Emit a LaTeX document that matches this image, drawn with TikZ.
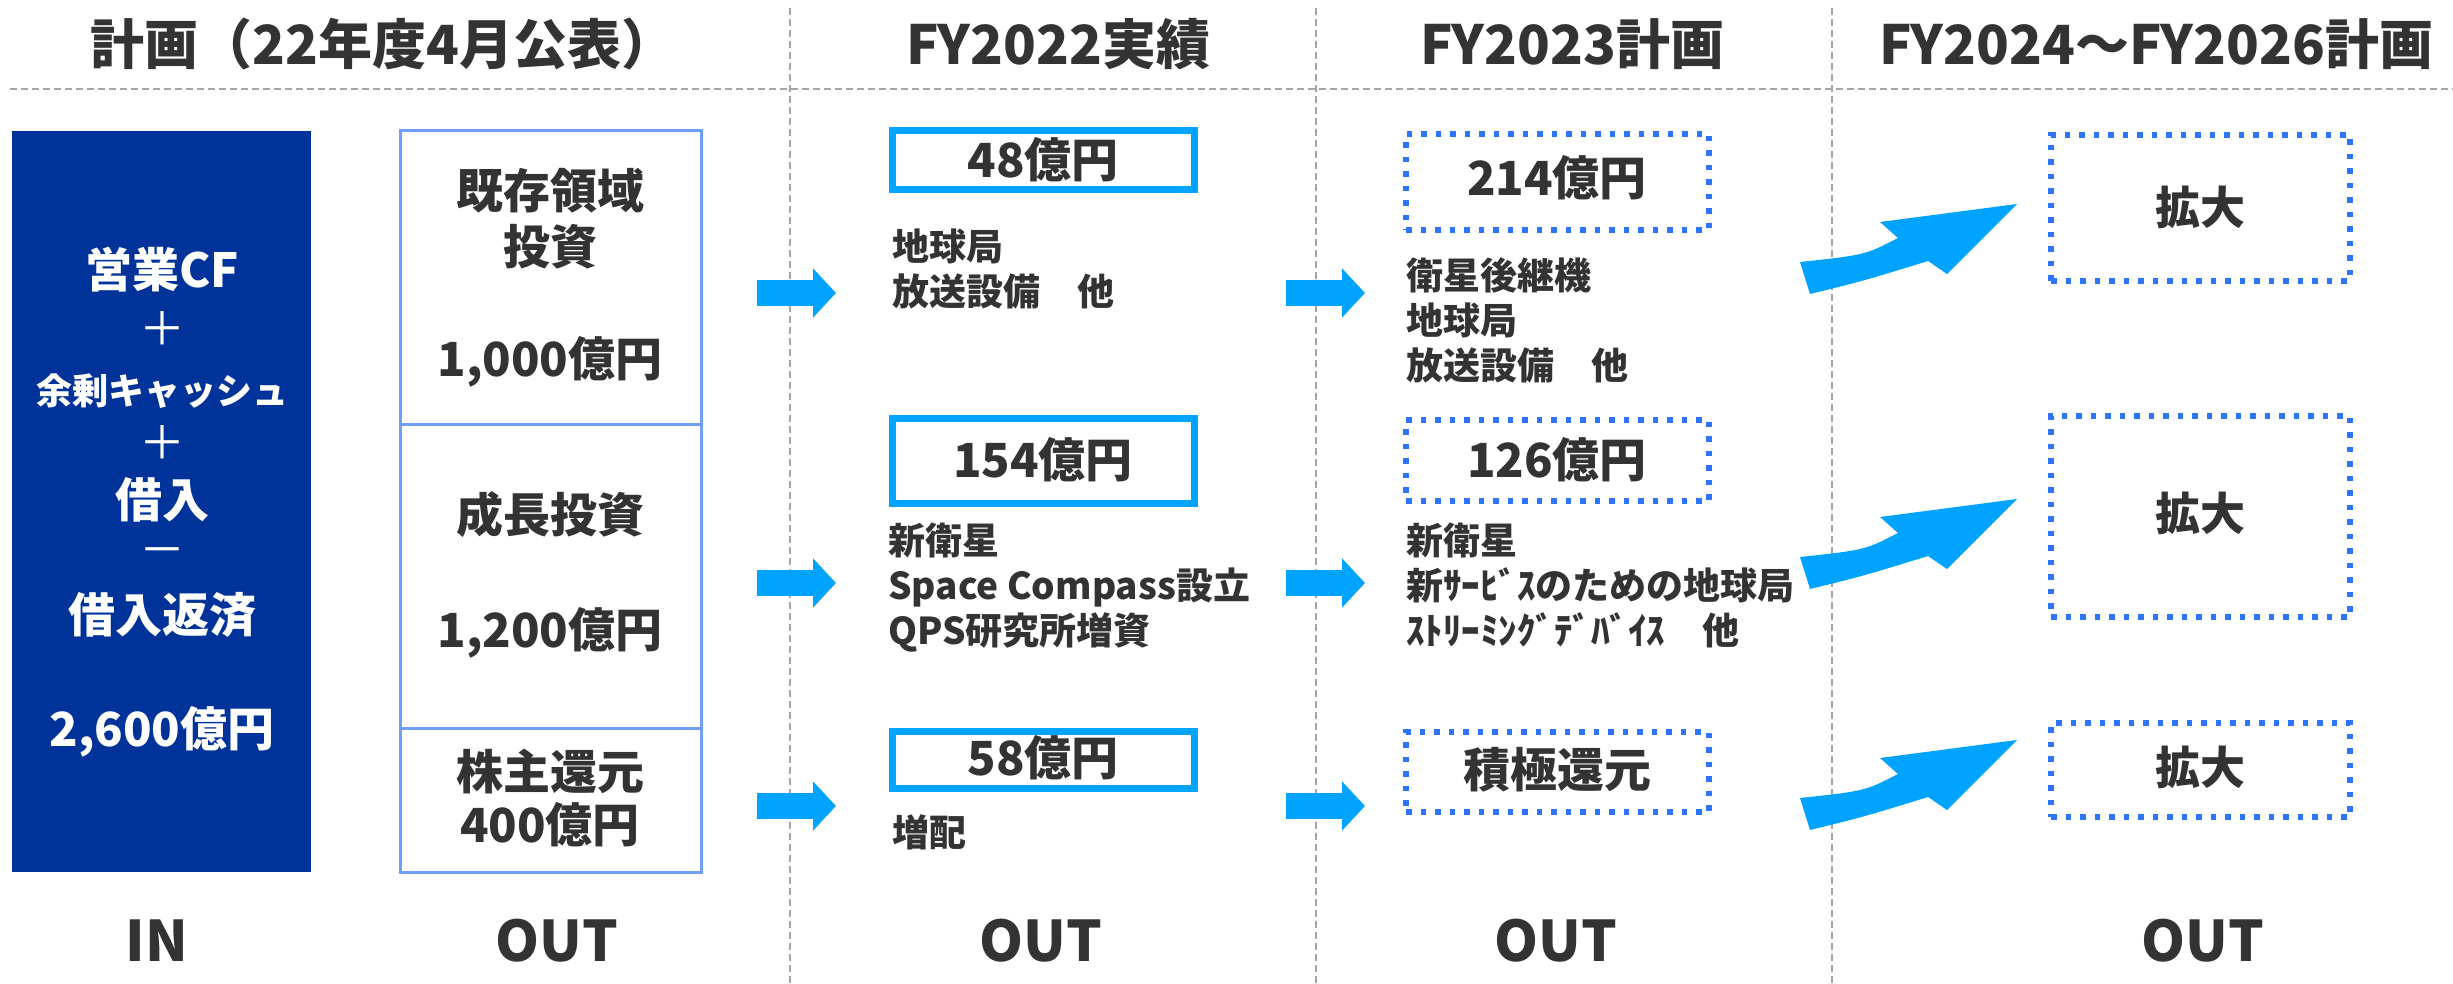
\documentclass[tikz,border=0pt]{standalone}
\usepackage{fontspec}
\setmainfont{Noto Sans CJK JP}
\usetikzlibrary{arrows.meta}

\definecolor{ink}{RGB}{51,51,51}
\definecolor{navy}{RGB}{0,51,153}
\definecolor{pale}{RGB}{110,158,255}
\definecolor{sky}{RGB}{0,163,255}
\definecolor{dotblue}{RGB}{45,117,255}
\definecolor{rulegray}{RGB}{165,165,165}

\begin{document}
\begin{tikzpicture}[x=1pt, y=-1pt, text=ink,
    hdr/.style = {font=\bfseries\fontsize{54}{60}\selectfont, inner sep=0},
    big/.style = {font=\bfseries\fontsize{47}{56}\selectfont, inner sep=0, align=center},
    sign/.style = {font=\fontsize{46}{50}\selectfont, inner sep=0, text=white},
    item/.style = {font=\bfseries\fontsize{37}{45}\selectfont, inner sep=0, align=left, anchor=west},
    inbox/.style = {fill=navy, minimum width=299pt, minimum height=741pt, inner sep=0},
    outbox/.style = {draw=pale, line width=3pt, minimum width=301pt, inner sep=0},
    solidbox/.style = {draw=sky, line width=7pt, minimum width=302pt, inner sep=0},
    dotbox/.style = {draw=dotblue, line width=5.5pt, dash pattern=on 5.5pt off 9pt, inner sep=0},
    flow/.style = {draw=sky, line width=26pt, -{Triangle[length=23pt,width=48pt]}},
    rules/.style = {draw=rulegray, line width=2pt, dash pattern=on 7pt off 4pt}]
    \useasboundingbox (0,0) rectangle (2453,984);
    % dashed grid
    \draw[rules] (10,89) -- (2453,89);
    \draw[rules] (790,8) -- (790,984);
    \draw[rules] (1316,8) -- (1316,984);
    \draw[rules] (1832,8) -- (1832,984);
    % titles
    \node[hdr] (h1) at (383,44) {計画（22年度4月公表）};
    \node[hdr] (h2) at (1058,44) {FY2022実績};
    \node[hdr] (h3) at (1572,44) {FY2023計画};
    \node[hdr] (h4) at (2156,44) {FY2024〜FY2026計画};
    % in
    \node[inbox] (in) at (161.5,501.5) {};
    \node[big, text=white] (in1) at (162,270) {営業CF};
    \node[sign] (in2) at (162,329) {＋};
    \node[big, text=white, font=\bfseries\fontsize{36}{40}\selectfont] (in3) at (162,391) {余剰キャッシュ};
    \node[sign] (in4) at (162,443) {＋};
    \node[big, text=white] (in5) at (162,500) {借入};
    \node[sign] (in6) at (162,557) {－};
    \node[big, text=white] (in7) at (162,615) {借入返済};
    \node[big, text=white] (in8) at (162,732) {2,600億円};
    % plan out
    \node[outbox, minimum height=293pt] (o1) at (550.5,277.5) {};
    \node[outbox, minimum height=304pt] (o2) at (550.5,576) {};
    \node[outbox, minimum height=144pt] (o3) at (550.5,800) {};
    \node[big] (p1) at (550,219) {既存領域\\投資};
    \node[big] (p2) at (550,362) {1,000億円};
    \node[big] (p3) at (550,515) {成長投資};
    \node[big] (p4) at (550,633) {1,200億円};
    \node[big, font=\bfseries\fontsize{47}{53}\selectfont] (p5) at (550,798) {株主還元\\400億円};
    % FY2022
    \node[solidbox, minimum height=59pt] (a1) at (1043.5,160) {};
    \node[solidbox, minimum height=85pt] (a2) at (1043.5,461) {};
    \node[solidbox, minimum height=57pt] (a3) at (1043.5,760) {};
    \node[big] (a1t) at (1043,160) {48億円};
    \node[big] (a2t) at (1043,460) {154億円};
    \node[big] (a3t) at (1043,758) {58億円};
    \node[item] (l1) at (892,269.5) {地球局\\放送設備　他};
    \node[item] (l2) at (888,588) {新衛星\\Space Compass設立\\QPS研究所増資};
    \node[item] (l3) at (892,832) {増配};
    % FY2023
    \node[dotbox, minimum width=303pt, minimum height=96pt] (b1) at (1557.5,182) {};
    \node[dotbox, minimum width=303pt, minimum height=81pt] (b2) at (1557.5,460.5) {};
    \node[dotbox, minimum width=303pt, minimum height=80pt] (b3) at (1557.5,772) {};
    \node[big] (b1t) at (1557,178) {214億円};
    \node[big] (b2t) at (1557,460) {126億円};
    \node[big] (b3t) at (1557,770) {積極還元};
    \node[item] (m1) at (1406,320) {衛星後継機\\地球局\\放送設備　他};
    \node[item] (m2) at (1406,585) {新衛星\\新ｻｰﾋﾞｽのための地球局\\ｽﾄﾘｰﾐﾝｸﾞﾃﾞﾊﾞｲｽ　他};
    % FY2024-2026
    \node[dotbox, minimum width=299pt, minimum height=146pt] (c1) at (2200.5,208) {};
    \node[dotbox, minimum width=299pt, minimum height=201pt] (c2) at (2200.5,516.5) {};
    \node[dotbox, minimum width=299pt, minimum height=94pt] (c3) at (2200.5,770) {};
    \node[big, font=\bfseries\fontsize{45}{50}\selectfont] (c1t) at (2200,207) {拡大};
    \node[big, font=\bfseries\fontsize{45}{50}\selectfont] (c2t) at (2200,513) {拡大};
    \node[big, font=\bfseries\fontsize{45}{50}\selectfont] (c3t) at (2200,767) {拡大};
    % arrows
    \coordinate (s1) at (757,293);  \coordinate (e1) at (836,293);
    \coordinate (s2) at (757,583);  \coordinate (e2) at (836,583);
    \coordinate (s3) at (757,806);  \coordinate (e3) at (836,806);
    \coordinate (u1) at (1286,293); \coordinate (v1) at (1365,293);
    \coordinate (u2) at (1286,583); \coordinate (v2) at (1365,583);
    \coordinate (u3) at (1286,806); \coordinate (v3) at (1365,806);
    \draw[flow] (s1) -- (e1);
    \draw[flow] (s2) -- (e2);
    \draw[flow] (s3) -- (e3);
    \draw[flow] (u1) -- (v1);
    \draw[flow] (u2) -- (v2);
    \draw[flow] (u3) -- (v3);
    \coordinate (g1) at (1800,262);
    \coordinate (g2) at (1800,557);
    \coordinate (g3) at (1800,798);
    \fill[sky, shift={(g1)}] (0,0) .. controls (65,-7) .. (98,-24) -- (80,-40) -- (217,-58) -- (147,12) -- (128,-1) .. controls (63,19) .. (10,32) -- cycle;
    \fill[sky, shift={(g2)}] (0,0) .. controls (65,-7) .. (98,-24) -- (80,-40) -- (217,-58) -- (147,12) -- (128,-1) .. controls (63,19) .. (10,32) -- cycle;
    \fill[sky, shift={(g3)}] (0,0) .. controls (65,-7) .. (98,-24) -- (80,-40) -- (217,-58) -- (147,12) -- (128,-1) .. controls (63,19) .. (10,32) -- cycle;
    % footer
    \node[hdr, font=\bfseries\fontsize{56}{60}\selectfont] (f1) at (157,941) {IN};
    \node[hdr, font=\bfseries\fontsize{56}{60}\selectfont] (f2) at (557,941) {OUT};
    \node[hdr, font=\bfseries\fontsize{56}{60}\selectfont] (f3) at (1041,941) {OUT};
    \node[hdr, font=\bfseries\fontsize{56}{60}\selectfont] (f4) at (1556,941) {OUT};
    \node[hdr, font=\bfseries\fontsize{56}{60}\selectfont] (f5) at (2203,941) {OUT};
\end{tikzpicture}
\end{document}
